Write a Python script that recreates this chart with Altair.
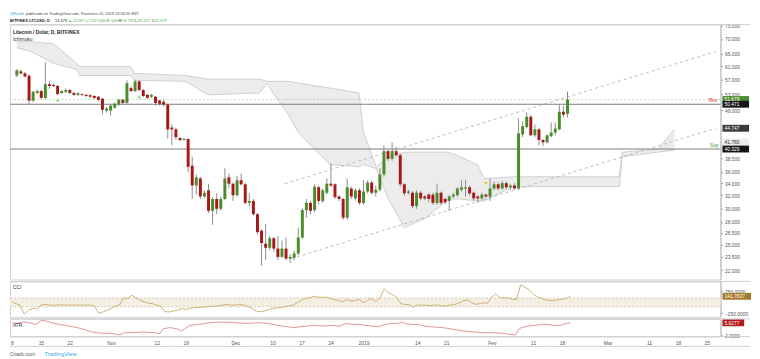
import altair as alt
import pandas as pd

FONT = "Liberation Sans"

# ---------------- data ----------------
# daily candles, day 0 = 8 Oct 2018 ... day 135 = 20 Feb 2019
days = list(range(136))
opens = [58.3, 59.5, 58.9, 58.2, 51.4, 53.4, 53.9, 52.1, 55.8, 55.6,
         55.3, 53.4, 53.7, 54.2, 53.4, 52.9, 53.1, 52.9, 52.8, 52.6,
         52.4, 51.9, 48.9, 48.9, 49.6, 50.4, 51.6, 50.8, 54.7, 53.9,
         56.6, 54.2, 52.9, 52.4, 52.4, 51.4, 51.1, 50.4, 44.9, 44.5,
         42.6, 42.2, 42.4, 37.1, 33.6, 34.8, 31.8, 32.8, 29.6, 31.4,
         29.9, 31.4, 35.0, 33.9, 32.0, 34.5, 33.8, 30.8, 31.1, 29.1,
         26.8, 25.1, 24.6, 25.8, 24.5, 23.5, 24.5, 23.3, 23.4, 23.9,
         25.9, 29.7, 30.8, 29.7, 33.3, 31.1, 32.4, 33.9, 33.8, 31.8,
         31.4, 28.6, 33.1, 31.5, 32.8, 30.8, 32.6, 34.1, 32.4, 32.9,
         35.5, 39.9, 38.4, 39.9, 39.1, 33.8, 32.4, 32.4, 30.3, 32.4,
         31.8, 32.1, 32.1, 30.8, 32.4, 31.4, 31.1, 31.8, 32.0, 32.9,
         33.1, 33.3, 32.4, 31.8, 31.5, 32.1, 31.8, 33.1, 33.8, 33.1,
         34.0, 33.3, 33.6, 33.1, 43.4, 45.0, 47.4, 43.2, 44.5, 42.2,
         41.7, 43.0, 43.8, 44.5, 48.6, 48.106]
highs = [60.1, 60.0, 59.3, 58.6, 54.0, 54.3, 54.2, 62.3, 56.6, 56.0,
         55.6, 54.2, 54.6, 54.5, 53.6, 53.6, 53.3, 53.1, 53.0, 52.8,
         52.6, 52.1, 49.8, 50.4, 50.9, 51.9, 51.9, 56.9, 55.3, 57.0,
         56.9, 54.5, 53.1, 53.1, 52.6, 51.6, 51.6, 50.6, 45.6, 44.9,
         42.8, 42.6, 42.6, 38.8, 35.5, 35.1, 32.8, 33.9, 31.7, 32.3,
         31.8, 36.6, 35.7, 34.1, 35.3, 35.7, 34.0, 32.3, 31.4, 29.3,
         27.0, 27.7, 26.1, 26.0, 26.1, 25.5, 25.9, 23.8, 24.2, 27.2,
         30.0, 31.4, 31.1, 33.9, 33.6, 33.1, 34.8, 37.5, 34.0, 32.0,
         31.6, 34.8, 33.4, 33.1, 33.1, 34.5, 34.5, 34.4, 33.6, 36.6,
         41.1, 40.3, 41.7, 40.7, 39.5, 34.0, 32.9, 32.7, 32.8, 32.7,
         32.0, 32.4, 32.4, 33.9, 32.6, 31.6, 32.0, 32.4, 33.3, 34.5,
         34.6, 33.6, 32.6, 32.0, 32.4, 32.3, 34.8, 34.3, 34.1, 34.4,
         34.3, 33.9, 34.0, 47.0, 46.3, 48.4, 47.9, 45.6, 44.9, 42.4,
         43.4, 46.1, 46.1, 50.4, 50.1, 53.792]
lows = [57.8, 58.6, 57.7, 50.4, 51.0, 53.1, 51.8, 51.8, 54.5, 55.0,
        52.9, 53.1, 53.4, 53.1, 52.6, 52.6, 52.6, 52.3, 52.1, 51.8,
        51.3, 47.9, 48.4, 47.7, 49.4, 50.1, 50.6, 50.6, 53.6, 53.6,
        53.9, 52.3, 51.8, 52.1, 50.1, 50.1, 49.9, 42.5, 41.1, 42.2,
        41.9, 42.0, 35.9, 31.4, 32.1, 31.4, 31.5, 29.3, 27.6, 29.1,
        29.6, 31.2, 33.1, 31.1, 31.8, 33.6, 30.6, 30.3, 28.9, 26.3,
        22.5, 23.1, 24.3, 24.1, 23.1, 23.4, 23.1, 22.8, 23.1, 23.7,
        25.7, 28.6, 29.1, 29.4, 30.6, 30.8, 32.1, 33.3, 31.4, 31.1,
        28.3, 28.3, 31.4, 31.2, 30.5, 30.5, 32.3, 32.1, 31.8, 32.6,
        35.1, 38.0, 38.0, 38.8, 33.4, 31.9, 32.1, 30.0, 29.9, 31.2,
        31.2, 30.9, 30.5, 30.5, 30.5, 30.6, 29.6, 31.6, 31.8, 32.6,
        31.8, 32.0, 31.2, 30.8, 31.2, 31.5, 31.1, 32.8, 32.8, 32.9,
        33.0, 32.8, 32.9, 32.9, 42.8, 44.7, 43.0, 42.8, 41.1, 40.9,
        41.5, 42.8, 43.2, 44.3, 47.2, 47.222]
closes = [59.8, 58.9, 58.0, 51.4, 53.7, 53.9, 52.1, 55.8, 55.3, 55.3,
          53.1, 53.9, 54.2, 53.4, 52.9, 53.3, 52.9, 52.6, 52.4, 52.1,
          51.6, 49.1, 49.4, 50.1, 50.6, 51.6, 50.8, 56.1, 53.9, 56.6,
          54.2, 52.6, 52.1, 52.9, 50.8, 50.6, 50.4, 44.5, 44.5, 42.8,
          42.2, 42.4, 36.9, 33.6, 35.0, 31.8, 32.4, 29.6, 31.4, 29.9,
          31.4, 34.8, 33.9, 32.0, 34.5, 33.8, 30.8, 31.1, 29.1, 26.6,
          25.2, 24.6, 25.8, 24.5, 23.5, 24.5, 23.3, 23.5, 23.9, 25.9,
          29.7, 30.8, 29.6, 33.4, 31.1, 32.8, 33.9, 33.6, 31.7, 31.4,
          28.6, 33.3, 31.8, 32.8, 30.8, 32.6, 34.1, 32.4, 32.9, 35.5,
          39.9, 38.4, 39.9, 39.1, 33.8, 32.3, 32.6, 30.3, 32.4, 31.5,
          31.5, 31.4, 30.8, 32.4, 30.8, 30.9, 31.8, 32.1, 33.1, 33.3,
          33.3, 32.3, 31.5, 31.5, 32.1, 31.8, 33.1, 33.8, 33.1, 34.0,
          33.3, 33.6, 33.1, 43.6, 45.2, 47.4, 43.2, 44.5, 42.2, 41.7,
          43.2, 43.8, 44.7, 48.6, 47.9, 51.679]

# Ichimoku cloud edges (day, upper edge, lower edge)
cloud_days = [0, 3.5, 9, 14.7, 15.4, 27.9, 28.8, 41.4, 46.8, 59.5, 61.4, 62.6,
              66.6, 69, 76.8, 83.9, 85, 88.1, 91, 95, 100.4, 105.9, 108.7, 113,
              114.6, 121.7, 147.7, 148.4, 157.1, 161.2]
cloud_top = [69.0, 69.0, 68.3, 61.9, 61.0, 61.0, 58.9, 58.3, 57.2, 57.2, 56.6, 56.6,
             56.6, 56.1, 54.7, 53.4, 43.8, 36.9, 38.8, 39.7, 39.7, 39.7, 38.8, 37.3,
             34.8, 35.1, 35.1, 39.7, 40.3, 44.5]
cloud_bot = [67.0, 65.7, 61.9, 60.1, 58.3, 58.3, 56.9, 56.6, 52.9, 53.4, 56.1, 53.7,
             47.9, 43.8, 37.3, 36.9, 37.3, 36.6, 31.5, 27.2, 28.6, 31.4, 31.4, 31.1,
             31.1, 33.4, 33.4, 38.8, 39.7, 40.1]

# CCI, one value per candle
cci = [14, -31, -62, -274, -183, -138, -160, -62, -46, -62,
       -69, -62, -55, -62, -62, -62, -62, -62, -62, -62,
       -84, -252, -221, -183, -138, -84, -62, 106, 90, 166,
       106, 52, 14, -16, -31, -62, -84, -214, -221, -198,
       -183, -145, -160, -138, -122, -115, -107, -100, -92, -84,
       -77, -62, -46, -62, -62, -46, -62, -92, -138, -198,
       -214, -198, -168, -138, -130, -122, -100, -84, -62, -8,
       52, 90, 106, 144, 121, 121, 121, 90, 60, 45,
       14, 68, 30, 45, 68, -8, 45, 90, 14, 106,
       318, 220, 182, 121, -31, -46, -54, -107, -62, -62,
       -62, -77, -62, -62, -84, -77, -62, -46, -16, 30,
       60, 7, -46, -31, -8, -16, 128, 197, 106, 106,
       106, 68, 68, 410, 349, 296, 197, 128, 90, 60,
       45, 45, 60, 75, 90, 141.7637]

# ATR, vertices
atr_days = [0, 1.2, 2.4, 3.5, 4.7, 5.9, 7.1, 8.3, 9.8, 11.4, 13, 14.6, 16.9, 19.3,
            21.7, 24, 26, 27.2, 29.5, 31.9, 34.3, 35.8, 36.6, 38.2, 39.8, 41, 43,
            45.3, 47.7, 50, 52.4, 54, 57.1, 59.5, 61.8, 64.2, 66.6, 68.1, 69.7,
            72.9, 75.2, 77.6, 79.2, 80.7, 82.3, 83.9, 85.5, 88.6, 90.2, 91.8,
            93.3, 94.1, 94.9, 96.5, 98.1, 99.6, 102, 104.3, 106.7, 109.1, 111.4,
            113.8, 116.2, 118.5, 120.1, 121.7, 122.5, 123.2, 124.8, 126.4, 128,
            129.5, 131.1, 132.7, 133.9, 135]
atr_vals = [5.63, 5.45, 5.81, 5.81, 5.45, 5.18, 6.36, 6.08, 5.63, 5.18, 4.90, 4.54,
            3.99, 3.08, 2.72, 2.72, 2.26, 2.90, 2.90, 3.08, 2.90, 2.63, 3.99, 4.27,
            3.99, 3.36, 4.90, 5.18, 5.63, 5.81, 5.81, 5.63, 5.45, 5.63, 5.45, 4.90,
            4.54, 4.27, 4.54, 4.90, 4.72, 4.90, 4.72, 5.45, 5.18, 5.18, 4.90, 4.54,
            5.18, 5.45, 5.45, 5.81, 5.45, 5.18, 5.18, 4.72, 4.45, 4.27, 3.81, 3.36,
            3.08, 2.90, 2.90, 2.72, 2.45, 2.26, 3.81, 4.27, 4.72, 4.90, 5.18, 5.18,
            4.90, 4.90, 5.45, 5.6277]

res_level = 50.471
sup_level = 40.329
last_close = 51.679

trend_up_days = [65.7, 171.3]
trend_up_vals = [33.9, 65.7]
trend_lo_days = [67.3, 171.3]
trend_lo_vals = [23.3, 44.747]

signal_up_days = [10, 30]
signal_up_vals = [51.6, 52.4]
signal_dn_days = [115]
signal_dn_vals = [33.9]

x_tick_days = [0, 7, 14, 24, 35, 42, 54, 63, 70, 77, 85, 98, 105, 116, 126, 133,
               144, 154, 161, 168]
x_tick_labels = ['8', '15', '22', 'Nov', '12', '19', 'Dec', '10', '17', '24', '2019',
                 '14', '21', 'Fev', '11', '18', 'Mar', '11', '18', '25']
y_ticks = [75, 70, 65, 61, 57, 53, 49, 38.5, 36, 34, 32, 30, 28, 26.5, 25, 23.5, 22]

tag_vals = [51.679, 50.471, 44.747, 41.780, 40.329]
tag_bg = ['#4e8d2f', '#151515', '#3b3b3b', '#ececec', '#151515']
tag_fg = ['#ffffff', '#ffffff', '#ffffff', '#333333', '#ffffff']

# ---------------- layout ----------------
W = 722
H_MAIN = 259
H_CCI = 36
H_ATR = 18

GREEN = '#4a8c2a'
RED = '#a81818'

XS = alt.Scale(domain=[-0.47, 171.3], nice=False, zero=False)
YM = alt.Scale(type='log', domain=[20.99, 75.2], nice=False, zero=False)
YC = alt.Scale(domain=[-335, 486], nice=False, zero=False)
YA = alt.Scale(domain=[1.81, 6.72], nice=False, zero=False)

AX_MAIN = alt.Axis(orient='right', values=y_ticks, format='.3f', labelFontSize=5,
                   labelFont=FONT, labelColor='#555555', tickSize=2, tickColor='#9a9a9a',
                   domainColor='#b8b8b8', grid=False, labelPadding=2, title=None,
                   labelOverlap=False)
AX_CCI = alt.Axis(orient='right', values=[250, -250], format='.4f', labelFontSize=5,
                  labelFont=FONT, labelColor='#555555', tickSize=2, tickColor='#9a9a9a',
                  domainColor='#b8b8b8', grid=False, labelPadding=2, title=None,
                  labelOverlap=False)
AX_ATR = alt.Axis(orient='right', values=[2.0], format='.4f', labelFontSize=5,
                  labelFont=FONT, labelColor='#555555', tickSize=2, tickColor='#9a9a9a',
                  domainColor='#b8b8b8', grid=False, labelPadding=2, title=None,
                  labelOverlap=False)

lbl_expr = ("[" + ",".join("'%s'" % s for s in x_tick_labels) + "][indexof(["
            + ",".join(str(v) for v in x_tick_days) + "], datum.value)]")
AX_X = alt.Axis(values=x_tick_days, labelExpr=lbl_expr, labelFontSize=5, labelFont=FONT,
                labelColor='#555555', ticks=False, domain=False, grid=False,
                labelPadding=4, title=None, labelOverlap=False, labelFlush=False)


def xm(field):
    return alt.X(field, type='quantitative', scale=XS, axis=None)


def xa(field):
    return alt.X(field, type='quantitative', scale=XS, axis=AX_X)


def ym(field):
    return alt.Y(field, type='quantitative', scale=YM, axis=AX_MAIN)


candles = pd.DataFrame({'d': days, 'o': opens, 'h': highs, 'l': lows, 'c': closes})
candles['col'] = [GREEN if c >= o else RED for o, c in zip(opens, closes)]
cloud = pd.DataFrame({'d': cloud_days, 'top': cloud_top, 'bot': cloud_bot})
t_up = pd.DataFrame({'d': trend_up_days, 'v': trend_up_vals})
t_lo = pd.DataFrame({'d': trend_lo_days, 'v': trend_lo_vals})
tags = pd.DataFrame({'v': tag_vals, 'txt': ['%.3f' % v for v in tag_vals],
                     'bg': tag_bg, 'fg': tag_fg})
one = pd.DataFrame({'k': [0]})

cloud_area = alt.Chart(cloud).mark_area(color='#ececec').encode(
    x=xm('d'), y=ym('top'), y2='bot')
cloud_l1 = alt.Chart(cloud).mark_line(color='#c6c6c6', strokeWidth=0.8).encode(
    x=xm('d'), y=ym('top'))
cloud_l2 = alt.Chart(cloud).mark_line(color='#c6c6c6', strokeWidth=0.8).encode(
    x=xm('d'), y=ym('bot'))

lvl = pd.DataFrame({'v': [res_level, sup_level]})
lvl_rules = alt.Chart(lvl).mark_rule(color='#7d7d7d', strokeWidth=1.2).encode(y=ym('v'))
last_df = pd.DataFrame({'v': [last_close]})
last_rule = alt.Chart(last_df).mark_rule(color='#a9d89b', strokeWidth=0.8,
                                         strokeDash=[2, 2]).encode(y=ym('v'))

tr1 = alt.Chart(t_up).mark_line(color='#b3b3b3', strokeWidth=0.9,
                                strokeDash=[3, 3]).encode(x=xm('d'), y=ym('v'))
tr2 = alt.Chart(t_lo).mark_line(color='#b3b3b3', strokeWidth=0.9,
                                strokeDash=[3, 3]).encode(x=xm('d'), y=ym('v'))

wicks = alt.Chart(candles).mark_rule(color='#8c8c8c', strokeWidth=1).encode(
    x=xm('d'), y=ym('l'), y2='h')
bodies = alt.Chart(candles).mark_bar(size=3).encode(
    x=xm('d'), y=ym('o'), y2='c', color=alt.Color('col:N', scale=None))

sig_up = alt.Chart(pd.DataFrame({'d': signal_up_days, 'v': signal_up_vals})).mark_point(
    shape='triangle-up', filled=True, size=14, color='#8fd36e', opacity=1).encode(
    x=xm('d'), y=ym('v'))
sig_dn = alt.Chart(pd.DataFrame({'d': signal_dn_days, 'v': signal_dn_vals})).mark_point(
    shape='triangle-down', filled=True, size=14, color='#f2c12e', opacity=1).encode(
    x=xm('d'), y=ym('v'))

res_txt = alt.Chart(pd.DataFrame({'v': [res_level], 't': ['Res']})).mark_text(
    align='right', baseline='bottom', dy=-1, fontSize=5, font=FONT, color='#e53935').encode(
    x=alt.value(W - 3), y=ym('v'), text='t:N')
sup_txt = alt.Chart(pd.DataFrame({'v': [sup_level], 't': ['Sup']})).mark_text(
    align='right', baseline='bottom', dy=-1, fontSize=5, font=FONT, color='#43a047').encode(
    x=alt.value(W - 2), y=ym('v'), text='t:N')

tag_rect = alt.Chart(tags).mark_rect(yOffset=-3.5, y2Offset=3.5).encode(
    x=alt.value(W + 2), x2=alt.value(W + 29), y=ym('v'), y2='v',
    color=alt.Color('bg:N', scale=None))
tag_text = alt.Chart(tags).mark_text(align='left', baseline='middle', fontSize=5,
                                     font=FONT).encode(
    x=alt.value(W + 4), y=ym('v'), text='txt:N', color=alt.Color('fg:N', scale=None))


def txt(s, x, y, color='#333333', size=5, weight='normal'):
    return alt.Chart(pd.DataFrame({'t': [s]})).mark_text(
        align='left', baseline='middle', fontSize=size, font=FONT, color=color,
        fontWeight=weight).encode(x=alt.value(x), y=alt.value(y), text='t:N')


header = [
    txt('@Fauth', 0, -11, '#2f8fdb', 4),
    txt('publicado no TradingView.com, Fevereiro 20, 2019 10:56:55 EST', 16, -11, '#444444', 4),
    txt('BITFINEX:LTCUSD, D', 0, -4, '#222222', 4, 'bold'),
    txt('51.679', 46, -4, '#222222', 4),
    txt('▲', 59, -4, '#4caf50', 4),
    txt('+3.567 (+7.41%)', 63, -4, '#4caf50', 4),
    txt('O:', 93, -4, '#222222', 4),
    txt('48.106', 97, -4, '#4caf50', 4),
    txt('H:', 110, -4, '#222222', 4),
    txt('53.792', 114, -4, '#4caf50', 4),
    txt('L:', 127, -4, '#222222', 4),
    txt('47.222', 130, -4, '#4caf50', 4),
    txt('C:', 144, -4, '#222222', 4),
    txt('51.679', 147, -4, '#4caf50', 4),
    txt('Litecoin / Dolar, D, BITFINEX', 3, 8, '#222222', 5, 'bold'),
    txt('Ichimoku', 3, 15, '#333333', 5),
]

top_line = alt.Chart(one).mark_rule(color='#cfcfcf', strokeWidth=1).encode(
    x=alt.value(0), x2=alt.value(W + 30), y=alt.value(0))

main = alt.layer(cloud_area, cloud_l1, cloud_l2, last_rule, lvl_rules, tr1, tr2,
                 wicks, bodies, sig_up, sig_dn, res_txt, sup_txt, tag_rect, tag_text,
                 top_line, *header).properties(width=W, height=H_MAIN)

# ---- CCI panel ----
cci_df = pd.DataFrame({'d': days, 'v': cci})
band = alt.Chart(pd.DataFrame({'a': [100], 'b': [-100]})).mark_rect(color='#f4efe3').encode(
    x=alt.value(0), x2=alt.value(W),
    y=alt.Y('a:Q', scale=YC, axis=AX_CCI), y2='b')
band_lines = alt.Chart(pd.DataFrame({'v': [100, -100]})).mark_rule(
    color='#cdbf9f', strokeWidth=0.8, strokeDash=[2, 2]).encode(
    y=alt.Y('v:Q', scale=YC, axis=AX_CCI))
cci_line = alt.Chart(cci_df).mark_line(color='#c9a86a', strokeWidth=0.9).encode(
    x=xm('d'), y=alt.Y('v:Q', scale=YC, axis=AX_CCI))
cci_tag_df = pd.DataFrame({'v': [cci[-1]], 't': ['%.4f' % cci[-1]]})
cci_tag_r = alt.Chart(cci_tag_df).mark_rect(color='#a57a2a', yOffset=-3.5, y2Offset=3.5).encode(
    x=alt.value(W + 2), x2=alt.value(W + 31), y=alt.Y('v:Q', scale=YC, axis=AX_CCI), y2='v')
cci_tag_t = alt.Chart(cci_tag_df).mark_text(align='left', baseline='middle', fontSize=5,
                                            font=FONT, color='white').encode(
    x=alt.value(W + 4), y=alt.Y('v:Q', scale=YC, axis=AX_CCI), text='t:N')
cci_line_top = alt.Chart(one).mark_rule(color='#cfcfcf', strokeWidth=1).encode(
    x=alt.value(0), x2=alt.value(W + 30), y=alt.value(0))
cci_panel = alt.layer(band, band_lines, cci_line, cci_tag_r, cci_tag_t, cci_line_top,
                      txt('CCI', 3, 6, '#333333', 5)).properties(width=W, height=H_CCI)

# ---- ATR panel ----
atr_df = pd.DataFrame({'d': atr_days, 'v': atr_vals})
atr_line = alt.Chart(atr_df).mark_line(color='#dc8a8a', strokeWidth=0.9).encode(
    x=xa('d'), y=alt.Y('v:Q', scale=YA, axis=AX_ATR))
atr_tag_df = pd.DataFrame({'d': [135], 'v': [atr_vals[-1]], 't': ['%.4f' % atr_vals[-1]]})
atr_tag_r = alt.Chart(atr_tag_df).mark_rect(color='#b3191c', yOffset=-3.5, y2Offset=3.5).encode(
    x=alt.value(W + 2), x2=alt.value(W + 24), y=alt.Y('v:Q', scale=YA, axis=AX_ATR), y2='v')
atr_tag_t = alt.Chart(atr_tag_df).mark_text(align='left', baseline='middle', fontSize=5,
                                            font=FONT, color='white').encode(
    x=alt.value(W + 4), y=alt.Y('v:Q', scale=YA, axis=AX_ATR), text='t:N')
atr_lines = alt.Chart(pd.DataFrame({'yy': [0, H_ATR, H_ATR + 10]})).mark_rule(
    color='#cfcfcf', strokeWidth=1).encode(
    x=alt.value(0), x2=alt.value(W + 30), y=alt.Y('yy:Q', scale=None))
footer = [
    txt('Criado com', 0, H_ATR + 18, '#555555', 5),
    txt('TradingView', 35, H_ATR + 18, '#49a8e8', 6),
]
atr_panel = alt.layer(atr_line, atr_tag_r, atr_tag_t, atr_lines,
                      txt('ATR', 3, 6, '#333333', 5), *footer).properties(width=W, height=H_ATR)

chart = alt.vconcat(main, cci_panel, atr_panel, spacing=0).resolve_scale(
    y='independent').configure_view(stroke='#d2d2d2', strokeWidth=1).properties(
    padding=0, background='white')

chart.save("out.html", embed_options={"renderer": "svg", "actions": False})
